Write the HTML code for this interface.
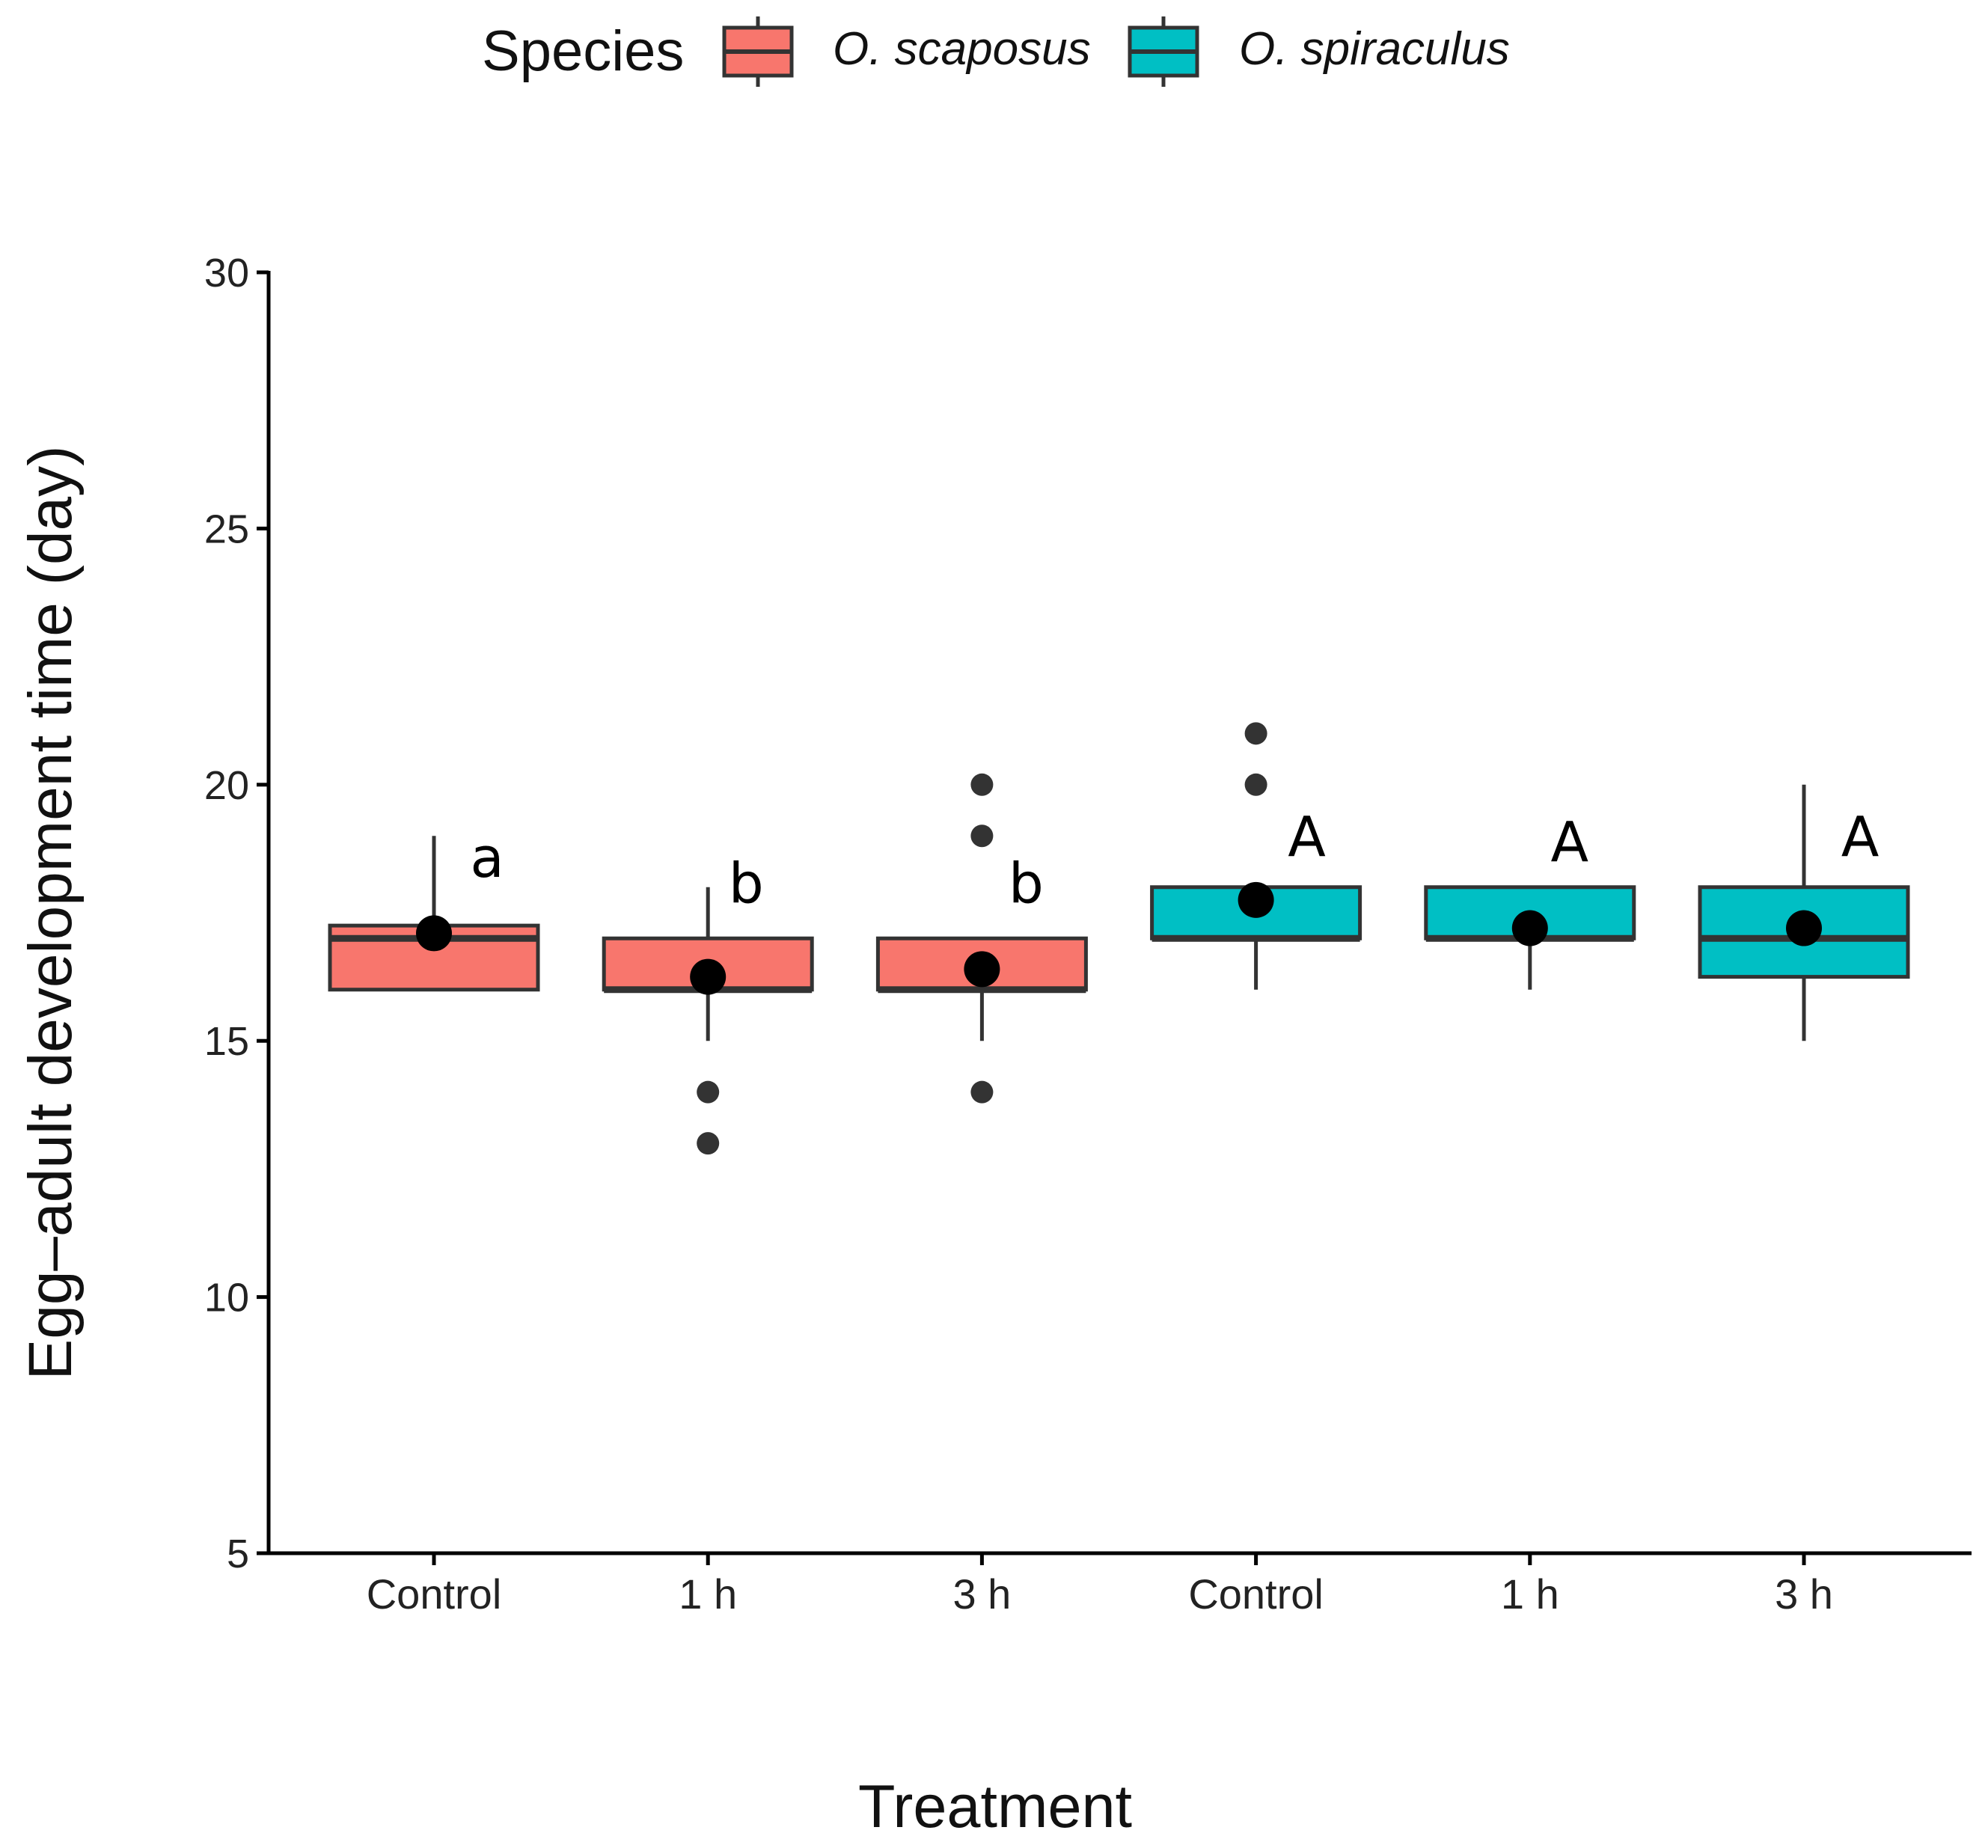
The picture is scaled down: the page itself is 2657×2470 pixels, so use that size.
<!DOCTYPE html>
<html><head><meta charset="utf-8"><style>
html,body{margin:0;padding:0;background:#fff;}
svg{display:block;font-family:"Liberation Sans",sans-serif;}
</style></head><body>
<svg id="chart" width="2657" height="2470" viewBox="0 0 2657 2470">
<g>
<text x="644" y="94" font-size="76" fill="#111">Species</text>
<g>
<line x1="1013" y1="22" x2="1013" y2="116" stroke="#333" stroke-width="5"/>
<rect x="968" y="37" width="90" height="64" fill="#F8766D" stroke="#333" stroke-width="5"/>
<line x1="968" y1="69" x2="1058" y2="69" stroke="#333" stroke-width="6"/>
<text x="1113" y="86" font-size="62" font-style="italic" fill="#111">O. scaposus</text>
</g>
<g>
<line x1="1555" y1="22" x2="1555" y2="116" stroke="#333" stroke-width="5"/>
<rect x="1510" y="37" width="90" height="64" fill="#00BFC4" stroke="#333" stroke-width="5"/>
<line x1="1510" y1="69" x2="1600" y2="69" stroke="#333" stroke-width="6"/>
<text x="1656" y="86" font-size="62" font-style="italic" fill="#111">O. spiraculus</text>
</g>
</g>
<g id="axes"></g>
<g id="marks"></g>
<text x="1330" y="2442" font-size="81" text-anchor="middle" fill="#111">Treatment</text>
<text transform="translate(95,1220) rotate(-90)" font-size="82" text-anchor="middle" fill="#111">Egg–adult development time (day)</text>
</svg>
<script>
const categories = ["Control","1 h","3 h","Control","1 h","3 h"];
const species = ["scaposus","scaposus","scaposus","spiraculus","spiraculus","spiraculus"];
const q1 = [16,16,16,17,17,16.25];
const medians = [17,16,16,17,17,17];
const q3 = [17.25,17,17,18,18,18];
const whiskerLow = [16,15,15,16,16,15];
const whiskerHigh = [19,18,17,18,18,20];
const means = [17.1,16.25,16.4,17.75,17.2,17.2];
const outliers = [[],[14,13],[20,19,14],[21,20],[],[]];
const letters = ["a","b","b","A","A","A"];
const letterY = [18.2,17.7,17.7,18.6,18.5,18.6];
const letterDx = [71,51,59,68,53,75];
const yTicks = [5,10,15,20,25,30];

const NS="http://www.w3.org/2000/svg";
const X0=359, X1=2635, Ytop=364, Ybot=2076;
function y(v){return Ybot-(v-5)/25*(Ybot-Ytop);}
function x(i){return 580+i*366.2;}
function mk(tag,attrs,parent){const e=document.createElementNS(NS,tag);for(const k in attrs)e.setAttribute(k,attrs[k]);parent.appendChild(e);return e;}
const axes=document.getElementById('axes'), marks=document.getElementById('marks');
const ya=mk('line',{x1:X0,y1:Ytop-2,x2:X0,y2:Ybot,stroke:'#000','stroke-width':5},axes);


const xa=mk('line',{x1:X0-2,y1:Ybot,x2:X1,y2:Ybot,stroke:'#000','stroke-width':5},axes);


yTicks.forEach(t=>{
 mk('line',{x1:X0-16,y1:y(t),x2:X0,y2:y(t),stroke:'#000','stroke-width':5},axes);
 const tx=mk('text',{x:X0-26,y:y(t)+19,'font-size':54,'text-anchor':'end',fill:'#222'},axes);
 tx.textContent=t;
 
 
});
categories.forEach((c,i)=>{
 mk('line',{x1:x(i),y1:Ybot,x2:x(i),y2:Ybot+16,stroke:'#000','stroke-width':5},axes);
 const tx=mk('text',{x:x(i),y:Ybot+74,'font-size':56,'text-anchor':'middle',fill:'#222'},axes);
 tx.textContent=c;
 
 
});
const W=278;
categories.forEach((c,i)=>{
 const g=mk('g',{},marks);
 
 
 const cx=x(i), col=species[i]==='scaposus'?'#F8766D':'#00BFC4';
 mk('line',{x1:cx,y1:y(whiskerHigh[i]),x2:cx,y2:y(q3[i]),stroke:'#333','stroke-width':5},g);
 mk('line',{x1:cx,y1:y(q1[i]),x2:cx,y2:y(whiskerLow[i]),stroke:'#333','stroke-width':5},g);
 mk('rect',{x:cx-W/2,y:y(q3[i]),width:W,height:y(q1[i])-y(q3[i]),fill:col,stroke:'#333','stroke-width':5},g);
 mk('line',{x1:cx-W/2,y1:y(medians[i]),x2:cx+W/2,y2:y(medians[i]),stroke:'#333','stroke-width':9},g);
 outliers[i].forEach(o=>{
  const p=mk('circle',{cx:cx,cy:y(o),r:15,fill:'#333'},g);
  
  
 });
 const m=mk('circle',{cx:cx,cy:y(means[i]),r:24,fill:'#000'},g);
 
 
 const l=mk('text',{x:cx+letterDx[i],y:y(letterY[i]),'font-size':74,'text-anchor':'middle',fill:'#000','font-family':'DejaVu Sans, sans-serif'},g);
 l.textContent=letters[i];
 
 
});
</script>
</body></html>
